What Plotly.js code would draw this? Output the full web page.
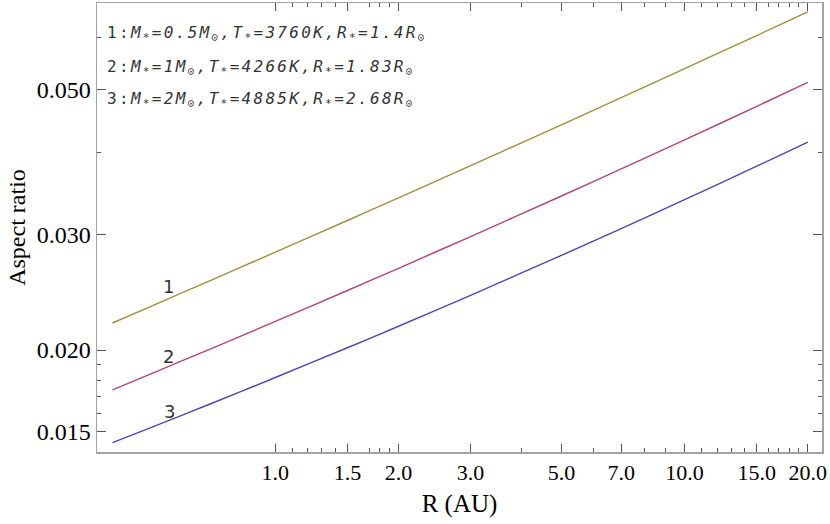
<!DOCTYPE html>
<html>
<head>
<meta charset="utf-8">
<script src="https://cdn.plot.ly/plotly-3.0.1.min.js"></script>
<style>
html,body{margin:0;padding:0;background:#fff;}
.annotation[data-index="0"] .annotation-text,
.annotation[data-index="1"] .annotation-text,
.annotation[data-index="2"] .annotation-text{letter-spacing:2.3px;}
</style>
</head>
<body>
<div id="chart" style="width:830px;height:524px;"></div>
<script>
// Radius (AU)
const R = [0.4, 0.5, 0.7, 1, 1.5, 2, 3, 5, 7, 10, 15, 20];
// Aspect ratio for each stellar model
const h1 = [0.02199, 0.02336, 0.02559, 0.02820, 0.03152, 0.03413, 0.03821, 0.04411, 0.04852, 0.05371, 0.06035, 0.06558];
const h2 = [0.01739, 0.01843, 0.02012, 0.02211, 0.02465, 0.02665, 0.02979, 0.03435, 0.03777, 0.04182, 0.04706, 0.05120];
const h3 = [0.01445, 0.01526, 0.01659, 0.01816, 0.02016, 0.02174, 0.02424, 0.02788, 0.03063, 0.03391, 0.03814, 0.04150];

const xMajor = [1, 1.5, 2, 3, 5, 7, 10, 15, 20];
const xMajorText = ["1.0", "1.5", "2.0", "3.0", "5.0", "7.0", "10.0", "15.0", "20.0"];
const xMinor = [1.1, 1.2, 1.3, 1.4, 1.7, 1.8, 1.9, 4, 6, 8, 9, 11, 12, 13, 14, 16, 17, 18, 19];
const yMajor = [0.015, 0.020, 0.030, 0.050];
const yMajorText = ["0.015", "0.020", "0.030", "0.050"];
const yMinor = [0.016, 0.017, 0.018, 0.019, 0.040, 0.060];

const legendLines = [
  "1:<i>M<sub>*</sub>=0.5M<sub>⊙</sub>,T<sub>*</sub>=3760K,R<sub>*</sub>=1.4R<sub>⊙</sub></i>",
  "2:<i>M<sub>*</sub>=1M<sub>⊙</sub>,T<sub>*</sub>=4266K,R<sub>*</sub>=1.83R<sub>⊙</sub></i>",
  "3:<i>M<sub>*</sub>=2M<sub>⊙</sub>,T<sub>*</sub>=4885K,R<sub>*</sub>=2.68R<sub>⊙</sub></i>"
];
const curveLabels = ["1", "2", "3"];
const colors = ["#a08f40", "#b04678", "#4848b2"];

const series = [h1, h2, h3];
const traces = series.map((h, i) => ({
  x: R, y: h, type: "scatter", mode: "lines",
  line: {color: colors[i], width: 1.4, shape: "spline", smoothing: 0.5},
  hoverinfo: "skip", showlegend: false
}));

const serif = "Liberation Serif";
const tickColor = "#555";
const frameColor = "#a3a3a3";

const legendY = [0.931, 0.857, 0.784];
const labelPos = [[0.098, 0.3675], [0.098, 0.2138], [0.100, 0.0913]];

const annotations = [];
legendLines.forEach((t, i) => annotations.push({
  text: t, xref: "paper", yref: "paper", x: 0.011, y: legendY[i],
  xanchor: "left", yanchor: "middle", align: "left", showarrow: false,
  font: {family: "DejaVu Sans Mono", size: 16, color: "#333"}
}));
curveLabels.forEach((t, i) => annotations.push({
  text: t, xref: "paper", yref: "paper", x: labelPos[i][0], y: labelPos[i][1],
  xanchor: "center", yanchor: "middle", showarrow: false,
  font: {family: "DejaVu Sans", size: 18, color: "#333"}
}));

const layout = {
  width: 830, height: 524,
  margin: {l: 97, r: 8, t: 3, b: 72},
  paper_bgcolor: "#fff", plot_bgcolor: "#fff",
  xaxis: {
    type: "log", range: [-0.4357, 1.3357],
    tickmode: "array", tickvals: xMajor, ticktext: xMajorText,
    ticks: "inside", ticklen: 8, tickwidth: 1, tickcolor: tickColor,
    minor: {tickmode: "array", tickvals: xMinor, ticks: "inside", ticklen: 4, tickwidth: 1, tickcolor: tickColor, showgrid: false},
    showline: true, linecolor: frameColor, linewidth: 1.5, mirror: "ticks",
    showgrid: false, zeroline: false,
    tickfont: {family: serif, size: 22, color: "#000"},
    title: {text: "R (AU)", font: {family: serif, size: 25, color: "#000"}, standoff: 10}
  },
  yaxis: {
    type: "log", range: [-1.8545, -1.1697],
    tickmode: "array", tickvals: yMajor, ticktext: yMajorText,
    ticks: "inside", ticklen: 9, tickwidth: 1, tickcolor: tickColor,
    minor: {tickmode: "array", tickvals: yMinor, ticks: "inside", ticklen: 4, tickwidth: 1, tickcolor: tickColor, showgrid: false},
    showline: true, linecolor: frameColor, linewidth: 1.5, mirror: "ticks",
    showgrid: false, zeroline: false,
    tickfont: {family: serif, size: 24, color: "#000"},
    title: {text: "Aspect ratio", font: {family: serif, size: 24, color: "#000"}, standoff: 4}
  },
  annotations: annotations
};

Plotly.newPlot("chart", traces, layout, {staticPlot: true, displayModeBar: false});
</script>
</body>
</html>
